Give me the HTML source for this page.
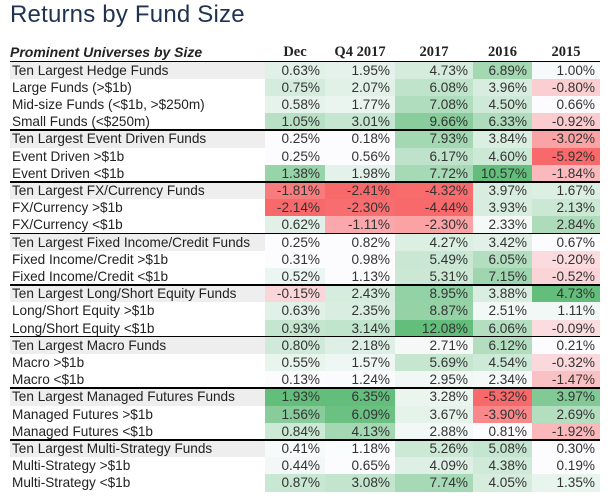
<!DOCTYPE html>
<html><head><meta charset="utf-8">
<style>
body{margin:0;width:610px;height:498px;background:#fff;position:relative;overflow:hidden;font-family:"Liberation Sans",sans-serif}
#title{position:absolute;left:10px;top:1px;font-size:24px;color:#1f3350;letter-spacing:0.2px}
.h{position:absolute;top:44px;height:18px;font-size:14.5px;font-weight:bold;color:#222;text-align:center;font-family:"Liberation Serif",serif}
#hlab{position:absolute;left:10px;top:44px;font-size:14px;font-weight:bold;font-style:italic;color:#222}
.line{position:absolute;left:10px;width:590px;height:1.6px;background:#000}
.lab{position:absolute;left:10px;width:255px;font-size:13.6px;color:#222;padding-left:2px;box-sizing:border-box;white-space:nowrap}
.c{position:absolute;font-size:13.6px;color:#333;text-align:right;padding-right:5px;box-sizing:border-box}
</style></head><body>
<div id="title">Returns by Fund Size</div>
<div id="hlab">Prominent Universes by Size</div>
<div id="tbl"></div>
<script>
const labels=["Ten Largest Hedge Funds","Large Funds (>$1b)","Mid-size Funds (<$1b, >$250m)","Small Funds (<$250m)","Ten Largest Event Driven Funds","Event Driven >$1b","Event Driven <$1b","Ten Largest FX/Currency Funds","FX/Currency >$1b","FX/Currency <$1b","Ten Largest Fixed Income/Credit Funds","Fixed Income/Credit >$1b","Fixed Income/Credit <$1b","Ten Largest Long/Short Equity Funds","Long/Short Equity >$1b","Long/Short Equity <$1b","Ten Largest Macro Funds","Macro >$1b","Macro <$1b","Ten Largest Managed Futures Funds","Managed Futures >$1b","Managed Futures <$1b","Ten Largest Multi-Strategy Funds","Multi-Strategy >$1b","Multi-Strategy <$1b"];
const columns=["Dec","Q4 2017","2017","2016","2015"];
const dec=[0.63,0.75,0.58,1.05,0.25,0.25,1.38,-1.81,-2.14,0.62,0.25,0.31,0.52,-0.15,0.63,0.93,0.80,0.55,0.13,1.93,1.56,0.84,0.41,0.44,0.87];
const q4=[1.95,2.07,1.77,3.01,0.18,0.56,1.98,-2.41,-2.30,-1.11,0.82,0.98,1.13,2.43,2.35,3.14,2.18,1.57,1.24,6.35,6.09,4.13,1.18,0.65,3.08];
const y2017=[4.73,6.08,7.08,9.66,7.93,6.17,7.72,-4.32,-4.44,-2.30,4.27,5.49,5.31,8.95,8.87,12.08,2.71,5.69,2.95,3.28,3.67,2.88,5.26,4.09,7.74];
const y2016=[6.89,3.96,4.50,6.33,3.84,4.60,10.57,3.97,3.93,2.33,3.42,6.05,7.15,3.88,2.51,6.06,6.12,4.54,2.34,-5.32,-3.90,0.81,5.08,4.38,4.05];
const y2015=[1.00,-0.80,0.66,-0.92,-3.02,-5.92,-1.84,1.67,2.13,2.84,0.67,-0.20,-0.52,4.73,1.11,-0.09,0.21,-0.32,-1.47,3.97,2.69,-1.92,0.30,0.19,1.35];
const series=[dec,q4,y2017,y2016,y2015];
const sectionStarts=[0,4,7,10,13,16,19,22];

const colX=[265,325,395,473,532,600];
const top0=61.6, rowH=17.2;
const rowY=i=>top0+i*rowH;
function mix(a,b,t){return a.map((v,k)=>Math.round(v+(b[k]-v)*t));}
const RED=[248,105,107],WHITE=[252,252,255],GREEN=[99,190,123];
function colorScale(vals){
  const mx=Math.max(...vals), mn=Math.min(...vals);
  return v=>{
    let c;
    if(v<0){c=mix(WHITE,RED,Math.min(1,0.2+0.8*v/mn));}
    else{const t=Math.max(0,Math.min(1,(v/mx-0.18)/0.82));c=mix(WHITE,GREEN,t);}
    return `rgb(${c.join(',')})`;
  };
}
const tbl=document.getElementById('tbl');
columns.forEach((name,j)=>{
  const h=document.createElement('div');
  h.className='h';
  h.style.left=colX[j]+'px';h.style.width=(colX[j+1]-colX[j])+'px';
  h.textContent=name;
  
  
  tbl.appendChild(h);
});
const hl=document.createElement('div');
hl.className='line';hl.style.top='61px';


tbl.appendChild(hl);
const scales=series.map(colorScale);
labels.forEach((lab,i)=>{
  const y=rowY(i);
  const l=document.createElement('div');
  l.className='lab';
  l.style.top=y+'px';l.style.height=rowH+'px';l.style.lineHeight=rowH+'px';
  if(sectionStarts.includes(i)) l.style.background='#eeeeee';
  l.textContent=lab;
  
  
  tbl.appendChild(l);
  series.forEach((vals,j)=>{
    const c=document.createElement('div');
    c.className='c';
    c.style.left=colX[j]+'px';c.style.width=(colX[j+1]-colX[j])+'px';
    c.style.top=y+'px';c.style.height=(rowH+0.5)+'px';c.style.lineHeight=rowH+'px';
    c.style.background=scales[j](vals[i]);
    c.textContent=vals[i].toFixed(2)+'%';
    
    
    tbl.appendChild(c);
  });
});
sectionStarts.slice(1).forEach(s=>{
  const d=document.createElement('div');
  d.className='line';d.style.top=(rowY(s)-1)+'px';
  
  
  tbl.appendChild(d);
});
</script>
</body></html>
